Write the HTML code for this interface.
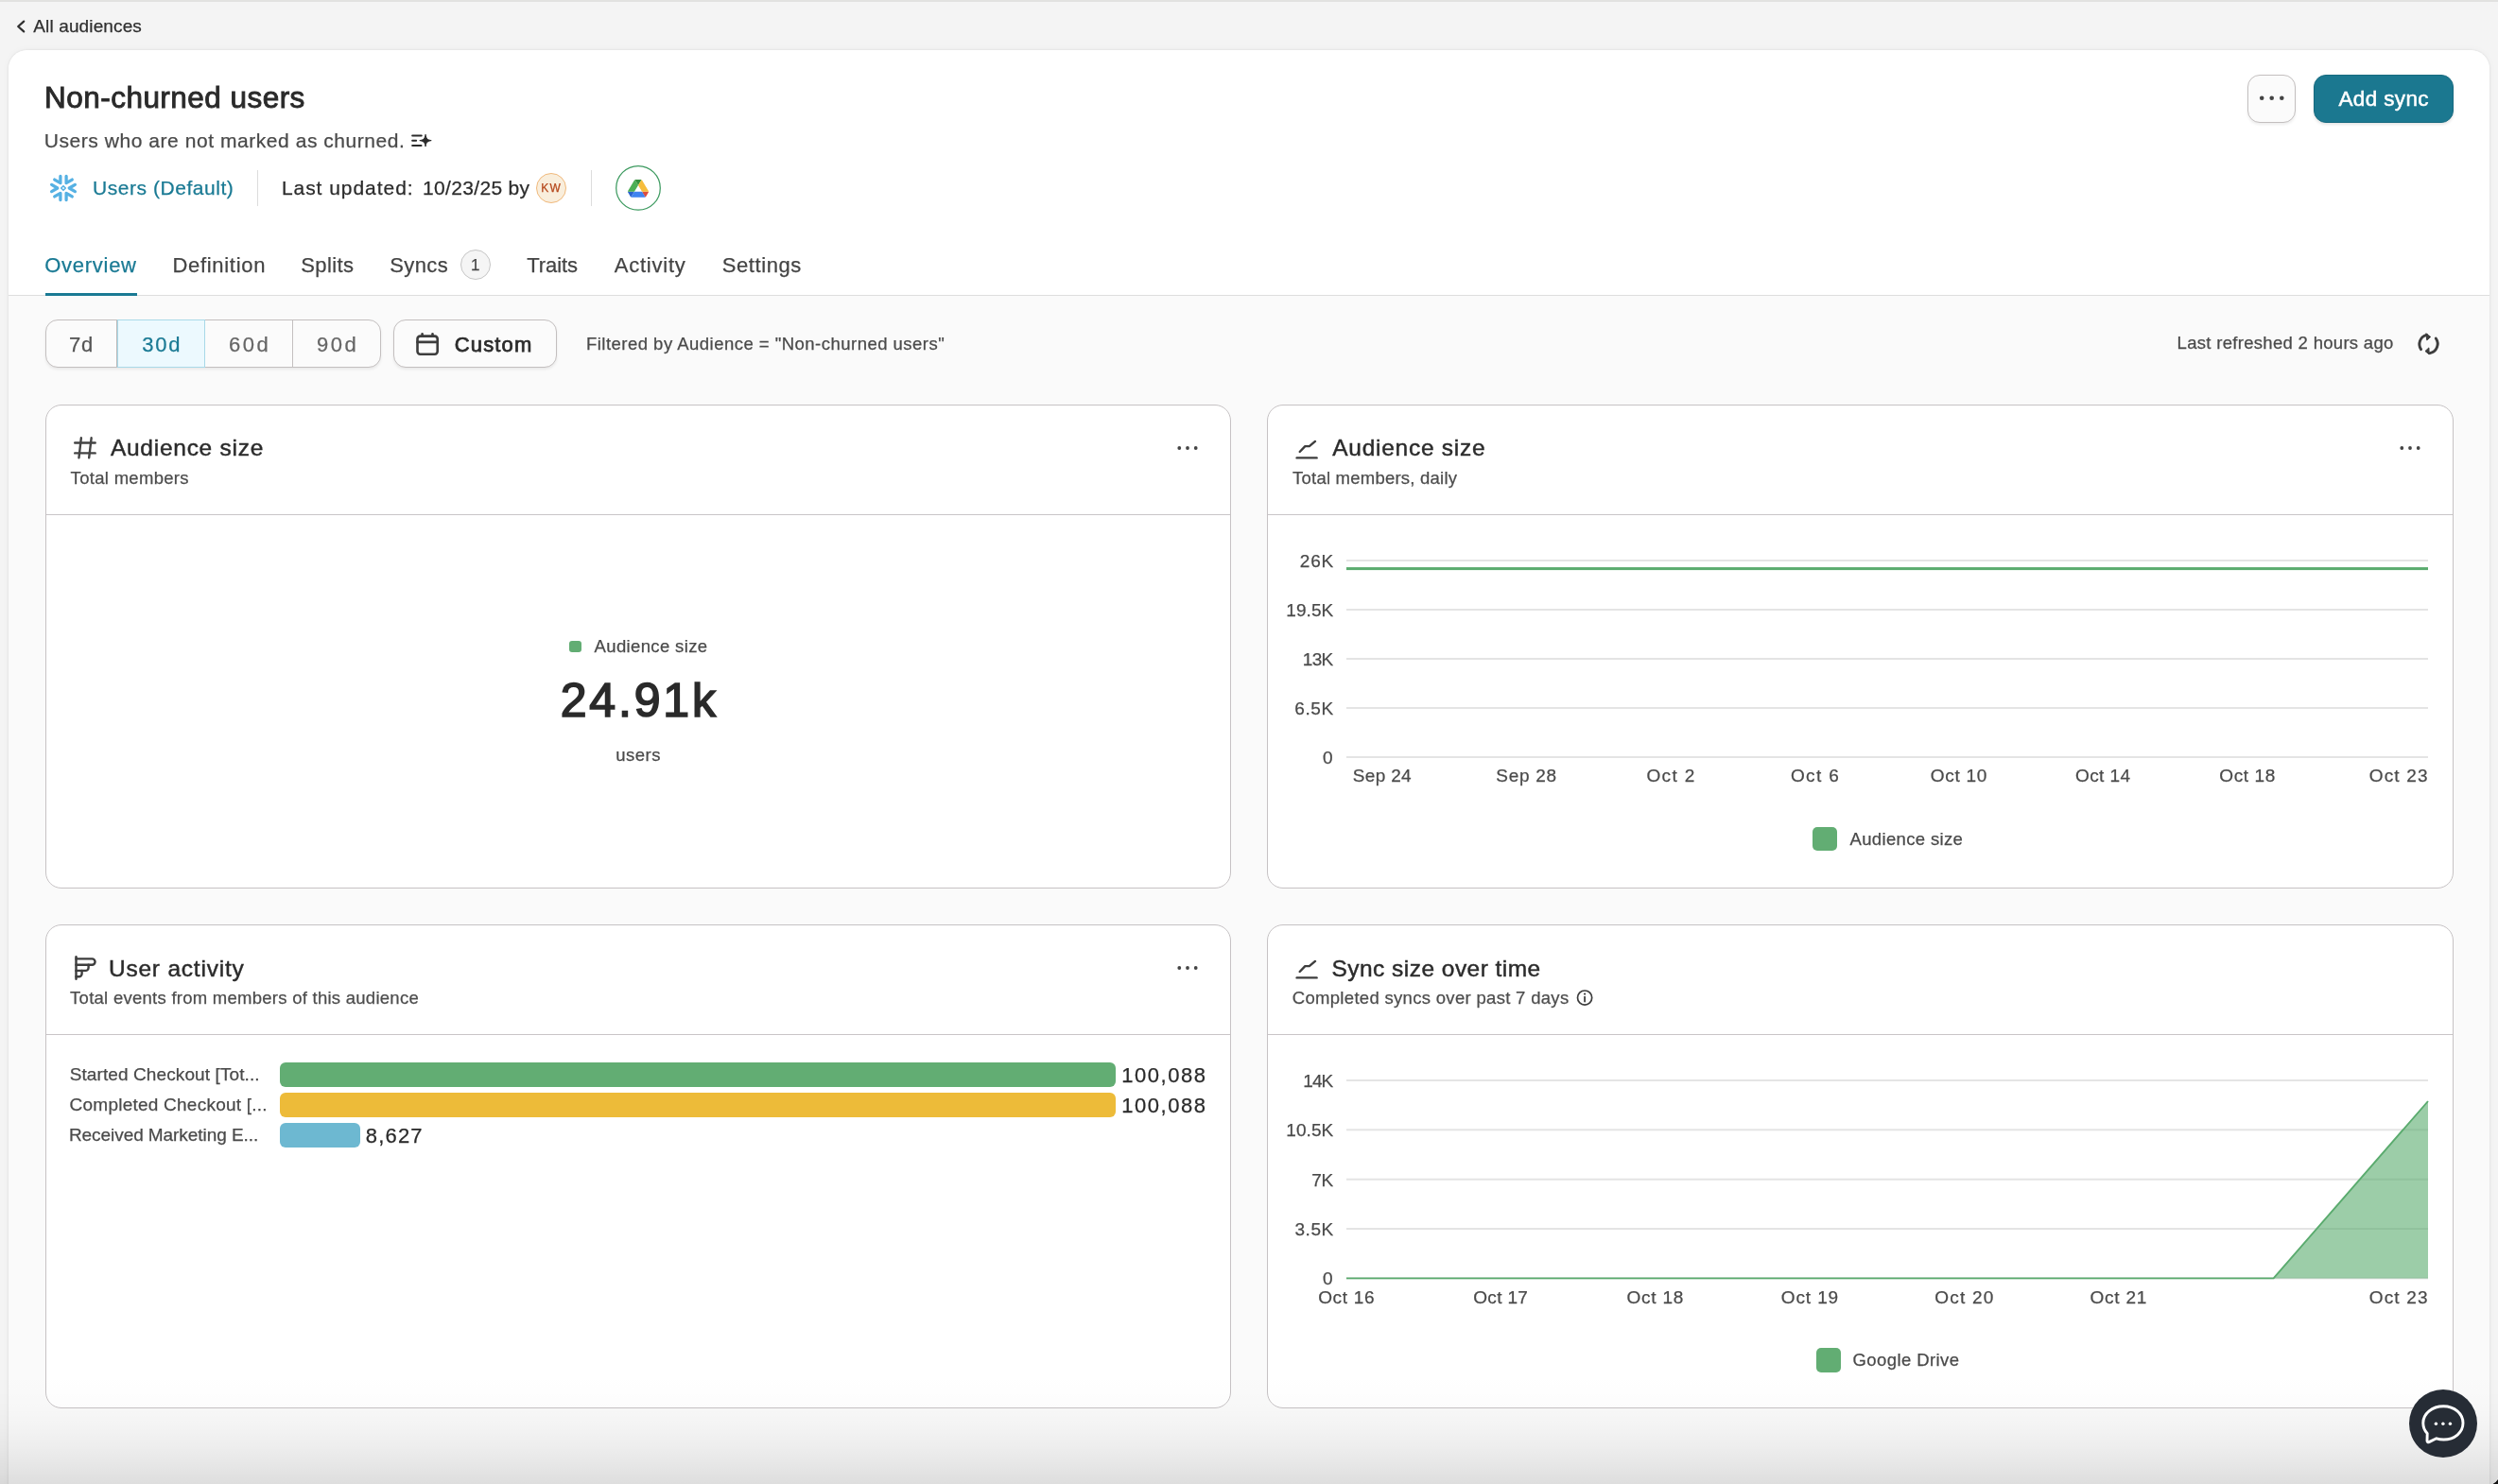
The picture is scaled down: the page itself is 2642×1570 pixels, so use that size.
<!DOCTYPE html>
<html lang="en">
<head>
<meta charset="utf-8">
<title>Non-churned users – Audience overview</title>
<style>
*{box-sizing:border-box;margin:0;padding:0}
html,body{width:2642px;height:1570px;overflow:hidden}
body{position:relative;background:#f4f4f4;font-family:"Liberation Sans",sans-serif;color:#2b2b2b}
.app{position:absolute;left:0;top:0;width:2642px;height:1570px;overflow:hidden;will-change:transform}
.abs,.t,svg.i{position:absolute}
.t{white-space:nowrap;display:block;font-weight:400;font-style:normal;text-decoration:none;-webkit-text-stroke:0.25px currentColor}
.topline{left:0;top:0;width:2642px;height:2px;background:#e2e2e0}
.panel{left:9px;top:53px;width:2624px;height:1560px;border-radius:20px;background:#fafafa;box-shadow:0 0 3px rgba(0,0,0,.11),0 0 8px rgba(0,0,0,.035)}
.panelhead{left:9px;top:53px;width:2624px;height:259px;border-radius:20px 20px 0 0;background:#fff}
.tabline{left:9px;top:312px;width:2624px;height:1px;background:#dedede}
.tabsel{left:48px;top:310px;width:97px;height:3px;background:#1a7a94}
.vdiv{width:1px;background:#dcdcdc}
.card{background:#fff;border:1px solid #c6c2c4;border-radius:17px}
.cardline{height:1px;background:#c9c5c7}
.btn{border:1px solid #c3bfbf;border-radius:12px;background:#fbfbfb;box-shadow:0 2px 3px rgba(0,0,0,.07)}
.bar{height:26px;border-radius:6px}
.sw{border-radius:5px;background:#62ad73}
.fade{left:0;top:1450px;width:2642px;height:120px;background:linear-gradient(to bottom,rgba(0,0,0,0) 0%,rgba(0,0,0,.004) 17%,rgba(0,0,0,.0125) 33%,rgba(0,0,0,.029) 50%,rgba(0,0,0,.051) 67%,rgba(0,0,0,.08) 83%,rgba(0,0,0,.115) 100%)}
</style>
</head>
<body>
<div class="app">
<div class="abs topline"></div>
<nav aria-label="Breadcrumb">
<svg class="i" style="left:14px;top:16px" width="18" height="24" viewBox="0 0 18 24"><path d="M11.2 6.6 L5.2 12 L11.2 17.4" fill="none" stroke="#2f2f2f" stroke-width="2.2" stroke-linecap="round" stroke-linejoin="round"/></svg>
<a class="t" style="left:35.30px;top:18px;font-size:19px;line-height:19px;color:#2f2f2f;letter-spacing:0.128px;">All audiences</a>
</nav>
<main>
<div class="abs panel"></div>
<div class="abs panelhead"></div>
<header>
<h1 class="t" style="left:47.07px;top:88px;font-size:31.5px;line-height:31.5px;color:#2a2a2a;letter-spacing:0.464px;-webkit-text-stroke:0.9px currentColor;">Non-churned users</h1>
<p class="t" style="left:46.81px;top:138px;font-size:21px;line-height:21px;color:#4a4a4a;letter-spacing:0.550px;">Users who are not marked as churned.</p>
<svg class="i" style="left:432px;top:138px" width="28" height="22" viewBox="432 138 28 22"><g stroke="#2a2a2a" stroke-width="1.9" stroke-linecap="round"><path d="M436.1 143.5H445.8M436.1 148.7H440.2M436.1 154H445.6"/></g><path d="M450.05 142.3 C450.6 146.6 452.0 148.0 456.2 148.65 C452.0 149.3 450.6 150.7 450.05 155.0 C449.5 150.7 448.1 149.3 443.8 148.65 C448.1 148.0 449.5 146.6 450.05 142.3Z" fill="#2a2a2a" stroke="#2a2a2a" stroke-width="1" stroke-linejoin="round"/></svg>
<svg class="i" style="left:49px;top:181px" width="36" height="36" viewBox="-18 -18 36 36"><g fill="none" stroke="#56b1e3" stroke-linecap="round" stroke-linejoin="round"><path transform="rotate(0)" d="M12.37 -3.57 L6.2 0 L12.37 3.57" stroke-width="3.3"/><path transform="rotate(60)" d="M12.37 -3.57 L6.2 0 L12.37 3.57" stroke-width="3.3"/><path transform="rotate(120)" d="M12.37 -3.57 L6.2 0 L12.37 3.57" stroke-width="3.3"/><path transform="rotate(180)" d="M12.37 -3.57 L6.2 0 L12.37 3.57" stroke-width="3.3"/><path transform="rotate(240)" d="M12.37 -3.57 L6.2 0 L12.37 3.57" stroke-width="3.3"/><path transform="rotate(300)" d="M12.37 -3.57 L6.2 0 L12.37 3.57" stroke-width="3.3"/><path d="M0 -2.3 L2.3 0 L0 2.3 L-2.3 0Z" stroke-width="1.6"/></g></svg>
<span class="t" style="left:98.01px;top:188px;font-size:21px;line-height:21px;color:#1a7a94;letter-spacing:0.548px;">Users (Default)</span>
<div class="abs vdiv" style="left:272px;top:180px;height:38px"></div>
<span class="t" style="left:297.90px;top:188px;font-size:21px;line-height:21px;color:#2b2b2b;letter-spacing:0.958px;">Last updated:</span>
<span class="t" style="left:447.03px;top:188px;font-size:21px;line-height:21px;color:#2b2b2b;letter-spacing:0.332px;">10/23/25 by</span>
<div class="abs" style="left:567px;top:183px;width:32px;height:32px;border-radius:50%;background:#f9eedc;border:1px solid #f0b97c"></div>
<span class="t" style="left:572.24px;top:193px;font-size:12px;line-height:12px;color:#b5471b;letter-spacing:1.344px;">KW</span>
<div class="abs vdiv" style="left:625px;top:180px;height:38px"></div>
<svg class="i" style="left:649px;top:173px" width="52" height="52" viewBox="649 173 52 52"><circle cx="675" cy="198.9" r="23.3" fill="#fff" stroke="#3c9a5f" stroke-width="1.25"/></svg>
<svg class="i" style="left:664px;top:190.2px" width="22" height="18.8" viewBox="0 0 87.3 78" preserveAspectRatio="none"><path d="m6.6 66.85 3.85 6.65c.8 1.4 1.95 2.5 3.3 3.3l13.75-23.8h-27.5c0 1.55.4 3.1 1.2 4.5z" fill="#2a63cf"/><path d="m43.65 25-13.75-23.8c-1.35.8-2.5 1.9-3.3 3.3l-25.4 44a9.06 9.06 0 0 0 -1.2 4.5h27.5z" fill="#4caf55"/><path d="m73.55 76.8c1.35-.8 2.5-1.9 3.3-3.3l1.6-2.75 7.65-13.25c.8-1.4 1.2-2.95 1.2-4.5h-27.502l5.852 11.5z" fill="#dc4c3f"/><path d="m43.65 25 13.75-23.8c-1.35-.8-2.9-1.2-4.5-1.2h-18.5c-1.6 0-3.15.45-4.5 1.2z" fill="#36913d"/><path d="m59.8 53h-32.3l-13.75 23.8c1.35.8 2.9 1.2 4.5 1.2h50.8c1.6 0 3.15-.45 4.5-1.2z" fill="#3f83f0"/><path d="m73.4 26.5-12.7-22c-.8-1.4-1.95-2.5-3.3-3.3l-13.75 23.8 16.15 28h27.45c0-1.55-.4-3.1-1.2-4.5z" fill="#f6bd3c"/></svg>
<div class="abs btn" style="left:2377px;top:79px;width:51px;height:51px;border-radius:13px"></div>
<svg class="i" style="left:2377px;top:79px" width="51" height="51" viewBox="2377 79 51 51"><g fill="#444"><circle cx="2392.2" cy="103.8" r="2.3"/><circle cx="2402.7" cy="103.8" r="2.3"/><circle cx="2413.3" cy="103.8" r="2.3"/></g></svg>
<div class="abs" style="left:2447px;top:79px;width:148px;height:51px;border-radius:13px;background:#1b7890;border:1px solid #166a80;box-shadow:0 2px 3px rgba(0,0,0,.10)"></div>
<span class="t" style="left:2473.52px;top:94px;font-size:22.5px;line-height:22.5px;color:#ffffff;letter-spacing:0.352px;-webkit-text-stroke:0.5px currentColor;">Add sync</span>
</header>
<nav aria-label="Audience sections">
<div class="abs tabline"></div>
<div class="abs tabsel"></div>
<span class="t" style="left:47.19px;top:270px;font-size:22px;line-height:22px;color:#1a7a94;letter-spacing:0.733px;">Overview</span>
<span class="t" style="left:182.42px;top:270px;font-size:22px;line-height:22px;color:#444;letter-spacing:0.695px;">Definition</span>
<span class="t" style="left:318.24px;top:270px;font-size:22px;line-height:22px;color:#444;letter-spacing:0.406px;">Splits</span>
<span class="t" style="left:412.33px;top:270px;font-size:22px;line-height:22px;color:#444;letter-spacing:0.357px;">Syncs</span>
<div class="abs" style="left:487px;top:264px;width:32px;height:32px;border-radius:50%;background:#f5f5f5;border:1px solid #c6c6c6"></div>
<span class="t" style="left:498.04px;top:272px;font-size:17px;line-height:17px;color:#444;">1</span>
<span class="t" style="left:557.34px;top:270px;font-size:22px;line-height:22px;color:#444;letter-spacing:-0.112px;">Traits</span>
<span class="t" style="left:649.69px;top:270px;font-size:22px;line-height:22px;color:#444;letter-spacing:0.777px;">Activity</span>
<span class="t" style="left:763.63px;top:270px;font-size:22px;line-height:22px;color:#444;letter-spacing:0.605px;">Settings</span>
</nav>
<section aria-label="Filters">
<div class="abs btn" style="left:48px;top:338px;width:355px;height:51px;border-radius:13px"></div>
<div class="abs" style="left:123px;top:339px;width:1px;height:49px;background:#bdb9b9"></div>
<div class="abs" style="left:124px;top:339px;width:93px;height:49px;background:#ecf9fe;border-left:1px solid #a9d9e8;border-right:1px solid #a9d9e8;box-shadow:0 -1px 0 #a9d9e8,0 1px 0 #a9d9e8"></div>
<div class="abs" style="left:309px;top:339px;width:1px;height:49px;background:#c4c0c0"></div>
<span class="t" style="left:73.10px;top:354px;font-size:22px;line-height:22px;color:#555;letter-spacing:0.616px;">7d</span>
<span class="t" style="left:150.29px;top:354px;font-size:22px;line-height:22px;color:#1a7a94;letter-spacing:1.794px;">30d</span>
<span class="t" style="left:241.91px;top:354px;font-size:22px;line-height:22px;color:#666;letter-spacing:2.531px;">60d</span>
<span class="t" style="left:335.10px;top:354px;font-size:22px;line-height:22px;color:#666;letter-spacing:2.487px;">90d</span>
<div class="abs btn" style="left:416px;top:338px;width:173px;height:51px;border-radius:13px"></div>
<svg class="i" style="left:436px;top:348px" width="32" height="32" viewBox="436 348 32 32"><g fill="none" stroke="#3d3d3d" stroke-width="2.6" stroke-linecap="round"><rect x="441.5" y="355.6" width="21.2" height="19.1" rx="2.9"/><path d="M441.5 361.9H462.7M446.6 353.2V355.6M457.5 353.2V355.6"/></g></svg>
<span class="t" style="left:480.86px;top:354px;font-size:22px;line-height:22px;color:#2b2b2b;letter-spacing:1.120px;-webkit-text-stroke:0.75px currentColor;">Custom</span>
<span class="t" style="left:620.01px;top:355px;font-size:18.5px;line-height:18.5px;color:#4a4a4a;letter-spacing:0.477px;">Filtered by Audience = &quot;Non-churned users&quot;</span>
<span class="t" style="left:2302.61px;top:354px;font-size:18.5px;line-height:18.5px;color:#4a4a4a;letter-spacing:0.305px;">Last refreshed 2 hours ago</span>
<svg class="i" style="left:2552px;top:348px" width="32" height="32" viewBox="2552 348 32 32"><g fill="none" stroke="#3d3d3d" stroke-width="2.9" stroke-linecap="round"><path d="M2560.6 369.6 A10 10 0 0 1 2566.5 354.3"/><path d="M2576.3 358.0 A10 10 0 0 1 2570.0 373.6"/></g><path d="M2565.8 352.8 L2570.7 356.4 L2566.8 359.9Z M2568.9 367.9 L2565.0 371.5 L2569.2 374.9Z" fill="#3d3d3d" stroke="#3d3d3d" stroke-width="1.0" stroke-linejoin="round"/></svg>
</section>
<section aria-label="Audience size total">
<div class="abs card" style="left:48px;top:428px;width:1254px;height:512px"></div>
<div class="abs cardline" style="left:49px;top:544px;width:1252px"></div>
<svg class="i" style="left:74px;top:458px" width="32" height="32" viewBox="74 458 32 32"><g fill="none" stroke="#444" stroke-width="2.4" stroke-linecap="round"><path d="M79.2 468.5H100.7M79.2 479.4H100.7M85.85 463.3L83.45 484.3M96.65 463.3L94.15 484.3"/></g></svg>
<h2 class="t" style="left:116.89px;top:462px;font-size:24.5px;line-height:24.5px;color:#2b2b2b;letter-spacing:0.744px;-webkit-text-stroke:0.45px currentColor;">Audience size</h2>
<span class="t" style="left:74.62px;top:497px;font-size:18.5px;line-height:18.5px;color:#4d4d4d;letter-spacing:0.301px;">Total members</span>
<svg class="i" style="left:1239.7px;top:467.6px" width="32" height="12" viewBox="-16 -6 32 12"><g fill="#444"><circle cx="-8.7" cy="0" r="1.9"/><circle cx="0" cy="0" r="1.9"/><circle cx="8.7" cy="0" r="1.9"/></g></svg>
<div class="abs" style="left:602px;top:678px;width:13px;height:12px;border-radius:3px;background:#62ad73"></div>
<span class="t" style="left:628.60px;top:675px;font-size:18.5px;line-height:18.5px;color:#4a4a4a;letter-spacing:0.359px;">Audience size</span>
<span class="t" style="left:592.65px;top:716px;font-size:50px;line-height:50px;color:#2a2a2a;letter-spacing:2.840px;-webkit-text-stroke:1.7px currentColor;">24.91k</span>
<span class="t" style="left:651.33px;top:790px;font-size:18.5px;line-height:18.5px;color:#4a4a4a;letter-spacing:0.467px;">users</span>
</section>
<section aria-label="Audience size daily">
<div class="abs card" style="left:1340px;top:428px;width:1255px;height:512px"></div>
<div class="abs cardline" style="left:1341px;top:544px;width:1253px"></div>
<svg class="i" style="left:1368.8px;top:462px" width="28" height="28" viewBox="0 0 28 28"><g fill="none" stroke="#3d3d3d" stroke-width="2.4" stroke-linecap="round" stroke-linejoin="round"><path d="M5.7 16 L11.3 10.1 H15.8 L22 4.9"/><path d="M2.6 22.4 H23.6"/></g></svg>
<h2 class="t" style="left:1409.19px;top:462px;font-size:24.5px;line-height:24.5px;color:#2b2b2b;letter-spacing:0.744px;-webkit-text-stroke:0.45px currentColor;">Audience size</h2>
<span class="t" style="left:1367.02px;top:497px;font-size:18.5px;line-height:18.5px;color:#4d4d4d;letter-spacing:0.228px;">Total members, daily</span>
<svg class="i" style="left:2532.7px;top:467.6px" width="32" height="12" viewBox="-16 -6 32 12"><g fill="#444"><circle cx="-8.7" cy="0" r="1.9"/><circle cx="0" cy="0" r="1.9"/><circle cx="8.7" cy="0" r="1.9"/></g></svg>
<svg class="i" style="left:1350px;top:562.8px" width="1240" height="300" viewBox="1350 562.8 1240 300"><rect x="1424" y="591.8" width="1144" height="2" fill="#e4e4e4"/><rect x="1424" y="643.8" width="1144" height="2" fill="#e4e4e4"/><rect x="1424" y="695.8" width="1144" height="2" fill="#e4e4e4"/><rect x="1424" y="747.8" width="1144" height="2" fill="#e4e4e4"/><rect x="1424" y="799.8" width="1144" height="2" fill="#e4e4e4"/><rect x="1424" y="599.9" width="1144" height="3" fill="#5aab6e"/></svg>
<span class="t" style="left:1374.77px;top:584px;font-size:19px;line-height:19px;color:#4a4a4a;letter-spacing:0.849px;">26K</span>
<span class="t" style="left:1360.28px;top:636px;font-size:19px;line-height:19px;color:#4a4a4a;letter-spacing:0.087px;">19.5K</span>
<span class="t" style="left:1377.68px;top:688px;font-size:19px;line-height:19px;color:#4a4a4a;letter-spacing:-0.604px;">13K</span>
<span class="t" style="left:1369.17px;top:740px;font-size:19px;line-height:19px;color:#4a4a4a;letter-spacing:0.679px;">6.5K</span>
<span class="t" style="left:1398.98px;top:792px;font-size:19px;line-height:19px;color:#4a4a4a;">0</span>
<span class="t" style="left:1430.87px;top:811px;font-size:19px;line-height:19px;color:#4a4a4a;letter-spacing:0.307px;">Sep 24</span>
<span class="t" style="left:1582.37px;top:811px;font-size:19px;line-height:19px;color:#4a4a4a;letter-spacing:0.700px;">Sep 28</span>
<span class="t" style="left:1741.43px;top:811px;font-size:19px;line-height:19px;color:#4a4a4a;letter-spacing:1.398px;">Oct 2</span>
<span class="t" style="left:1893.93px;top:811px;font-size:19px;line-height:19px;color:#4a4a4a;letter-spacing:1.392px;">Oct 6</span>
<span class="t" style="left:2041.63px;top:811px;font-size:19px;line-height:19px;color:#4a4a4a;letter-spacing:0.762px;">Oct 10</span>
<span class="t" style="left:2194.93px;top:811px;font-size:19px;line-height:19px;color:#4a4a4a;letter-spacing:0.446px;">Oct 14</span>
<span class="t" style="left:2347.23px;top:811px;font-size:19px;line-height:19px;color:#4a4a4a;letter-spacing:0.639px;">Oct 18</span>
<span class="t" style="left:2505.73px;top:811px;font-size:19px;line-height:19px;color:#4a4a4a;letter-spacing:1.161px;">Oct 23</span>
<div class="abs sw" style="left:1917px;top:875px;width:26px;height:25px"></div>
<span class="t" style="left:1956.50px;top:879px;font-size:18.5px;line-height:18.5px;color:#4a4a4a;letter-spacing:0.351px;">Audience size</span>
</section>
<section aria-label="User activity">
<div class="abs card" style="left:48px;top:978px;width:1254px;height:512px"></div>
<div class="abs cardline" style="left:49px;top:1094px;width:1252px"></div>
<svg class="i" style="left:74px;top:1008px" width="32" height="32" viewBox="74 1008 32 32"><g fill="none" stroke="#3d3d3d" stroke-width="2.4" stroke-linecap="round" stroke-linejoin="round"><path d="M80.5 1012.2V1035.8"/><path d="M80.5 1014.4H97.4a3.15 3.15 0 0 1 0 6.3H80.5"/><path d="M93.6 1020.7V1023.8a3.1 3.1 0 0 1-3.1 3.1H80.5"/><path d="M86.6 1026.9V1030.1a3.1 3.1 0 0 1-3.1 3.1H80.5"/></g></svg>
<h2 class="t" style="left:114.94px;top:1013px;font-size:24.5px;line-height:24.5px;color:#2b2b2b;letter-spacing:0.788px;-webkit-text-stroke:0.45px currentColor;">User activity</h2>
<span class="t" style="left:74.12px;top:1047px;font-size:18.5px;line-height:18.5px;color:#4d4d4d;letter-spacing:0.262px;">Total events from members of this audience</span>
<svg class="i" style="left:1239.7px;top:1017.5px" width="32" height="12" viewBox="-16 -6 32 12"><g fill="#444"><circle cx="-8.7" cy="0" r="1.9"/><circle cx="0" cy="0" r="1.9"/><circle cx="8.7" cy="0" r="1.9"/></g></svg>
<div class="abs bar" style="left:296px;top:1124px;width:884px;background:#62ad73"></div>
<div class="abs bar" style="left:296px;top:1156px;width:884px;background:#edbb39"></div>
<div class="abs bar" style="left:296px;top:1188px;width:85px;background:#6db8d1"></div>
<span class="t" style="left:73.67px;top:1127px;font-size:19px;line-height:19px;color:#4a4a4a;letter-spacing:0.104px;">Started Checkout [Tot...</span>
<span class="t" style="left:73.57px;top:1159px;font-size:19px;line-height:19px;color:#4a4a4a;letter-spacing:0.237px;">Completed Checkout [...</span>
<span class="t" style="left:72.97px;top:1191px;font-size:19px;line-height:19px;color:#4a4a4a;letter-spacing:-0.067px;">Received Marketing E...</span>
<span class="t" style="left:1186.25px;top:1127px;font-size:22px;line-height:22px;color:#2a2a2a;letter-spacing:1.525px;">100,088</span>
<span class="t" style="left:1186.25px;top:1159px;font-size:22px;line-height:22px;color:#2a2a2a;letter-spacing:1.525px;">100,088</span>
<span class="t" style="left:386.78px;top:1191px;font-size:22px;line-height:22px;color:#2a2a2a;letter-spacing:1.185px;">8,627</span>
</section>
<section aria-label="Sync size over time">
<div class="abs card" style="left:1340px;top:978px;width:1255px;height:512px"></div>
<div class="abs cardline" style="left:1341px;top:1094px;width:1253px"></div>
<svg class="i" style="left:1368.8px;top:1012px" width="28" height="28" viewBox="0 0 28 28"><g fill="none" stroke="#3d3d3d" stroke-width="2.4" stroke-linecap="round" stroke-linejoin="round"><path d="M5.7 16 L11.3 10.1 H15.8 L22 4.9"/><path d="M2.6 22.4 H23.6"/></g></svg>
<h2 class="t" style="left:1408.52px;top:1013px;font-size:24.5px;line-height:24.5px;color:#2b2b2b;letter-spacing:0.463px;-webkit-text-stroke:0.45px currentColor;">Sync size over time</h2>
<span class="t" style="left:1366.79px;top:1047px;font-size:18.5px;line-height:18.5px;color:#4d4d4d;letter-spacing:0.309px;">Completed syncs over past 7 days</span>
<svg class="i" style="left:1664px;top:1044px" width="24" height="24" viewBox="1664 1044 24 24"><circle cx="1676.1" cy="1055.6" r="7.6" fill="none" stroke="#3d3d3d" stroke-width="1.7"/><path d="M1676.1 1054.6V1059.6" stroke="#3d3d3d" stroke-width="1.8" stroke-linecap="round"/><circle cx="1676.1" cy="1051.6" r="1.15" fill="#3d3d3d"/></svg>
<svg class="i" style="left:1350px;top:1112.8px" width="1240" height="300" viewBox="1350 1112.8 1240 300"><rect x="1424" y="1141.8" width="1144" height="2" fill="#e4e4e4"/><rect x="1424" y="1194.1" width="1144" height="2" fill="#e4e4e4"/><rect x="1424" y="1246.5" width="1144" height="2" fill="#e4e4e4"/><rect x="1424" y="1298.8" width="1144" height="2" fill="#e4e4e4"/><rect x="1424" y="1351.2" width="1144" height="2" fill="#e4e4e4"/><path d="M2404.6 1352.2 L2568 1164.8 V1352.2Z" fill="#5aab6e" fill-opacity="0.6"/><path d="M1424 1352.2 H2404.6 L2568 1164.8" fill="none" stroke="#5aab6e" stroke-width="1.9"/></svg>
<span class="t" style="left:1378.28px;top:1134px;font-size:19px;line-height:19px;color:#4a4a4a;letter-spacing:-0.904px;">14K</span>
<span class="t" style="left:1360.28px;top:1186px;font-size:19px;line-height:19px;color:#4a4a4a;letter-spacing:0.087px;">10.5K</span>
<span class="t" style="left:1387.36px;top:1239px;font-size:19px;line-height:19px;color:#4a4a4a;letter-spacing:-0.309px;">7K</span>
<span class="t" style="left:1369.40px;top:1291px;font-size:19px;line-height:19px;color:#4a4a4a;letter-spacing:0.599px;">3.5K</span>
<span class="t" style="left:1398.98px;top:1343px;font-size:19px;line-height:19px;color:#4a4a4a;">0</span>
<span class="t" style="left:1394.13px;top:1363px;font-size:19px;line-height:19px;color:#4a4a4a;letter-spacing:0.701px;">Oct 16</span>
<span class="t" style="left:1558.13px;top:1363px;font-size:19px;line-height:19px;color:#4a4a4a;letter-spacing:0.366px;">Oct 17</span>
<span class="t" style="left:1720.53px;top:1363px;font-size:19px;line-height:19px;color:#4a4a4a;letter-spacing:0.759px;">Oct 18</span>
<span class="t" style="left:1883.83px;top:1363px;font-size:19px;line-height:19px;color:#4a4a4a;letter-spacing:0.874px;">Oct 19</span>
<span class="t" style="left:2046.13px;top:1363px;font-size:19px;line-height:19px;color:#4a4a4a;letter-spacing:1.262px;">Oct 20</span>
<span class="t" style="left:2210.53px;top:1363px;font-size:19px;line-height:19px;color:#4a4a4a;letter-spacing:0.780px;">Oct 21</span>
<span class="t" style="left:2505.73px;top:1363px;font-size:19px;line-height:19px;color:#4a4a4a;letter-spacing:1.181px;">Oct 23</span>
<div class="abs sw" style="left:1921px;top:1426px;width:26px;height:26px"></div>
<span class="t" style="left:1959.50px;top:1430px;font-size:18.5px;line-height:18.5px;color:#4a4a4a;letter-spacing:0.411px;">Google Drive</span>
</section>
</main>
<div class="abs fade"></div>
<svg class="i" style="left:2548px;top:1470px" width="72" height="72" viewBox="0 0 72 72"><circle cx="36" cy="36" r="36" fill="#262c35"/><path d="M36.3 17.8 C48.0 17.8 57.0 25.6 57.0 35.6 C57.0 45.6 48.0 53.0 36.6 53.0 C33.8 53.0 31.2 52.6 28.9 51.8 L21.0 55.6 C19.8 56.1 19.0 55.3 19.0 54.3 L19.2 46.6 C16.3 43.6 14.8 39.8 14.8 35.6 C14.8 25.6 24.4 17.8 36.3 17.8Z" fill="none" stroke="#fff" stroke-width="2.9" stroke-linejoin="round"/><g fill="#fff"><circle cx="28.4" cy="36.2" r="1.7"/><circle cx="35.9" cy="36.2" r="1.7"/><circle cx="43.4" cy="36.2" r="1.7"/></g></svg>
<svg class="i" style="left:2622px;top:1550px" width="20" height="20" viewBox="2622 1550 20 20"><path d="M2634.2 1570.5 Q2639.6 1568.4 2642.5 1563.0 L2642.5 1570.5Z" fill="#f7f7f7"/><path d="M2635.3 1570.5 Q2640.0 1568.6 2642.5 1564.2 L2642.5 1570.5Z" fill="#121212"/></svg>
</div>
</body>
</html>
